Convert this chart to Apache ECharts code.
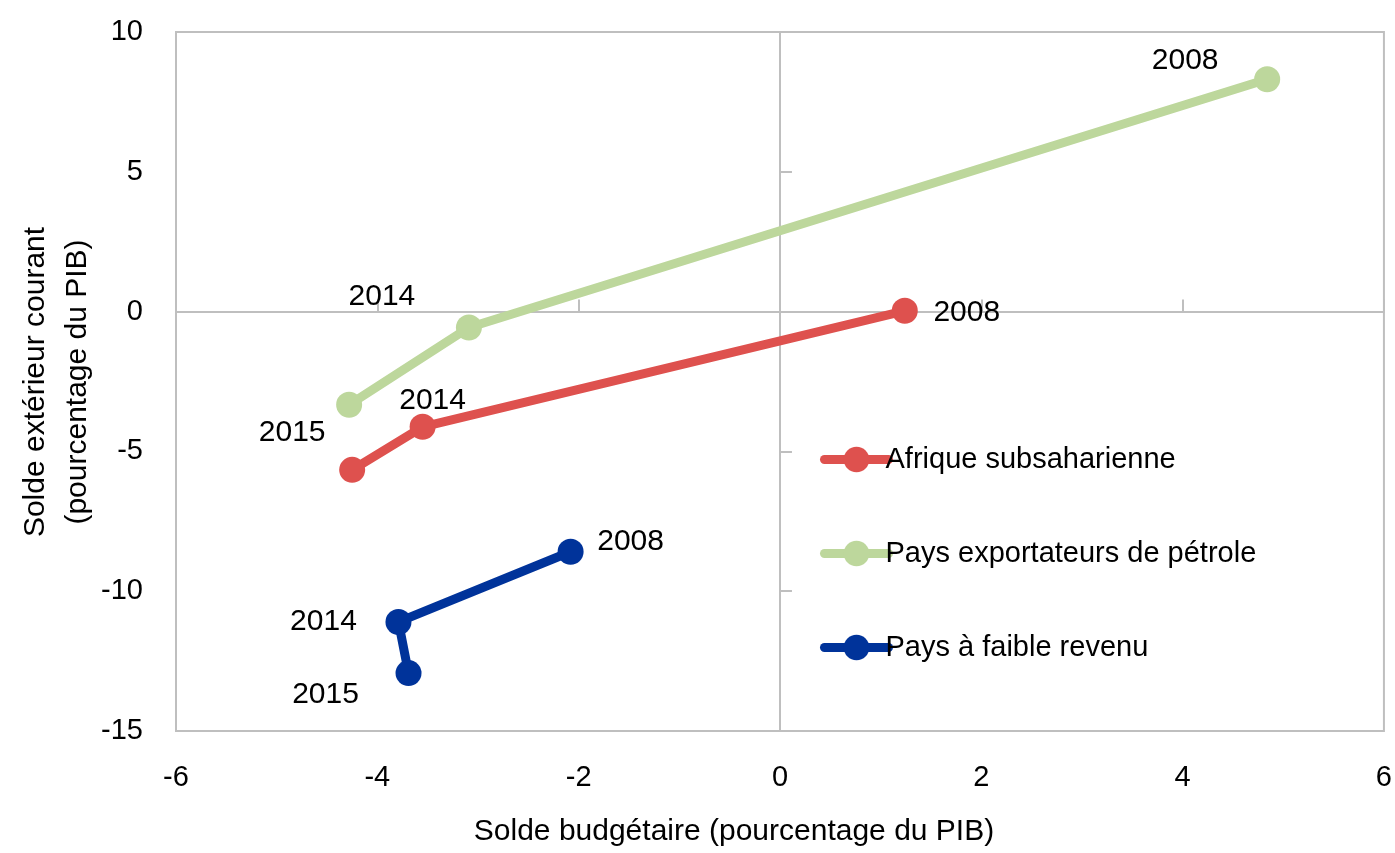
<!DOCTYPE html>
<html>
<head>
<meta charset="utf-8">
<script src="https://cdn.jsdelivr.net/npm/echarts@6/dist/echarts.min.js"></script>
<style>
  html, body { margin: 0; padding: 0; background: #fff; }
  #chart { width: 1395px; height: 853px; }
</style>
</head>
<body>
<div id="chart"></div>
<script>
// années affichées à côté des points
const years = ['2008', '2014', '2015']

// [solde budgétaire, solde extérieur courant] par année
const afriqueSub = [[1.24, 0.03], [-3.55, -4.12], [-4.25, -5.66]]
const paysPetrole = [[4.84, 8.31], [-3.09, -0.57], [-4.28, -3.33]]
const paysFaible = [[-2.08, -8.59], [-3.79, -11.10], [-3.69, -12.93]]

const seriesNames = ['Afrique subsaharienne', 'Pays exportateurs de pétrole', 'Pays à faible revenu']
const colors = ['#DE514E', '#BDD79C', '#00339A']

// décalage des étiquettes (px) par rapport au point
const labelOffsets = [
  [[62, 2], [10, -26], null],
  [[-82, -19], [-87, -31], [-57, 28]],
  [[60, -10], [-75, 0], [-83, 22]]
]

const xTicks = { min: -6, max: 6, interval: 2 }
const yTicks = { min: -15, max: 10, interval: 5 }

const font = "'Liberation Sans', Arial, sans-serif"

const chart = echarts.init(document.getElementById('chart'))

const makeData = (points, s) => points.map((p, i) => {
  const off = labelOffsets[s][i]
  return {
    value: p,
    label: off ? {
      show: true,
      position: 'inside',
      offset: off,
      formatter: years[i],
      color: '#000',
      fontSize: 30,
      fontFamily: font
    } : { show: false }
  }
})

const series = [afriqueSub, paysPetrole, paysFaible].map((pts, s) => ({
  name: seriesNames[s],
  type: 'line',
  xAxisIndex: 0,
  yAxisIndex: 0,
  symbol: 'circle',
  symbolSize: 26,
  lineStyle: { width: 9, color: colors[s] },
  itemStyle: { color: colors[s] },
  emphasis: { disabled: true },
  z: 3 + s,
  data: makeData(pts, s)
}))

chart.setOption({
  backgroundColor: '#fff',
  animation: false,
  grid: {
    left: 176,
    right: 10,
    top: 32,
    bottom: 122,
    show: true,
    borderColor: '#BFBFBF',
    borderWidth: 2,
    backgroundColor: 'transparent'
  },
  legend: {
    orient: 'vertical',
    left: 815,
    top: 440,
    itemWidth: 64,
    itemHeight: 32,
    itemGap: 65,
    data: seriesNames,
    lineStyle: { width: 9, cap: 'round' },
    textStyle: { fontSize: 29, color: '#000', fontFamily: font, padding: [0, 0, 0, -8] }
  },
  xAxis: [{
    type: 'value',
    min: xTicks.min,
    max: xTicks.max,
    interval: xTicks.interval,
    axisLine: { show: false },
    axisTick: { show: false },
    splitLine: { show: false },
    axisLabel: { margin: 32, fontSize: 29, color: '#000', fontFamily: font }
  }, {
    type: 'value',
    position: 'top',
    min: xTicks.min,
    max: xTicks.max,
    interval: xTicks.interval,
    axisLine: { show: true, onZero: true, onZeroAxisIndex: 1, lineStyle: { color: '#BFBFBF', width: 2 } },
    axisTick: { show: true, length: 12, lineStyle: { color: '#BFBFBF', width: 2 } },
    axisLabel: { show: false },
    splitLine: { show: false }
  }],
  yAxis: [{
    type: 'value',
    min: yTicks.min,
    max: yTicks.max,
    interval: yTicks.interval,
    axisLine: { show: false },
    axisTick: { show: false },
    splitLine: { show: false },
    axisLabel: { margin: 33, fontSize: 29, color: '#000', fontFamily: font }
  }, {
    type: 'value',
    position: 'right',
    min: yTicks.min,
    max: yTicks.max,
    interval: yTicks.interval,
    axisLine: { show: true, onZero: true, onZeroAxisIndex: 1, lineStyle: { color: '#BFBFBF', width: 2 } },
    axisTick: { show: true, length: 12, lineStyle: { color: '#BFBFBF', width: 2 } },
    axisLabel: { show: false },
    splitLine: { show: false }
  }],
  graphic: [{
    type: 'text',
    x: 734,
    y: 832,
    style: {
      text: 'Solde budgétaire (pourcentage du PIB)',
      fontSize: 30,
      fontFamily: font,
      fill: '#000',
      align: 'center',
      verticalAlign: 'middle'
    }
  }, {
    type: 'text',
    x: 57,
    y: 382,
    rotation: Math.PI / 2,
    style: {
      text: 'Solde extérieur courant\n(pourcentage du PIB)',
      fontSize: 30,
      lineHeight: 42,
      fontFamily: font,
      fill: '#000',
      align: 'center',
      verticalAlign: 'middle'
    }
  }],
  series: series
})
</script>
</body>
</html>
